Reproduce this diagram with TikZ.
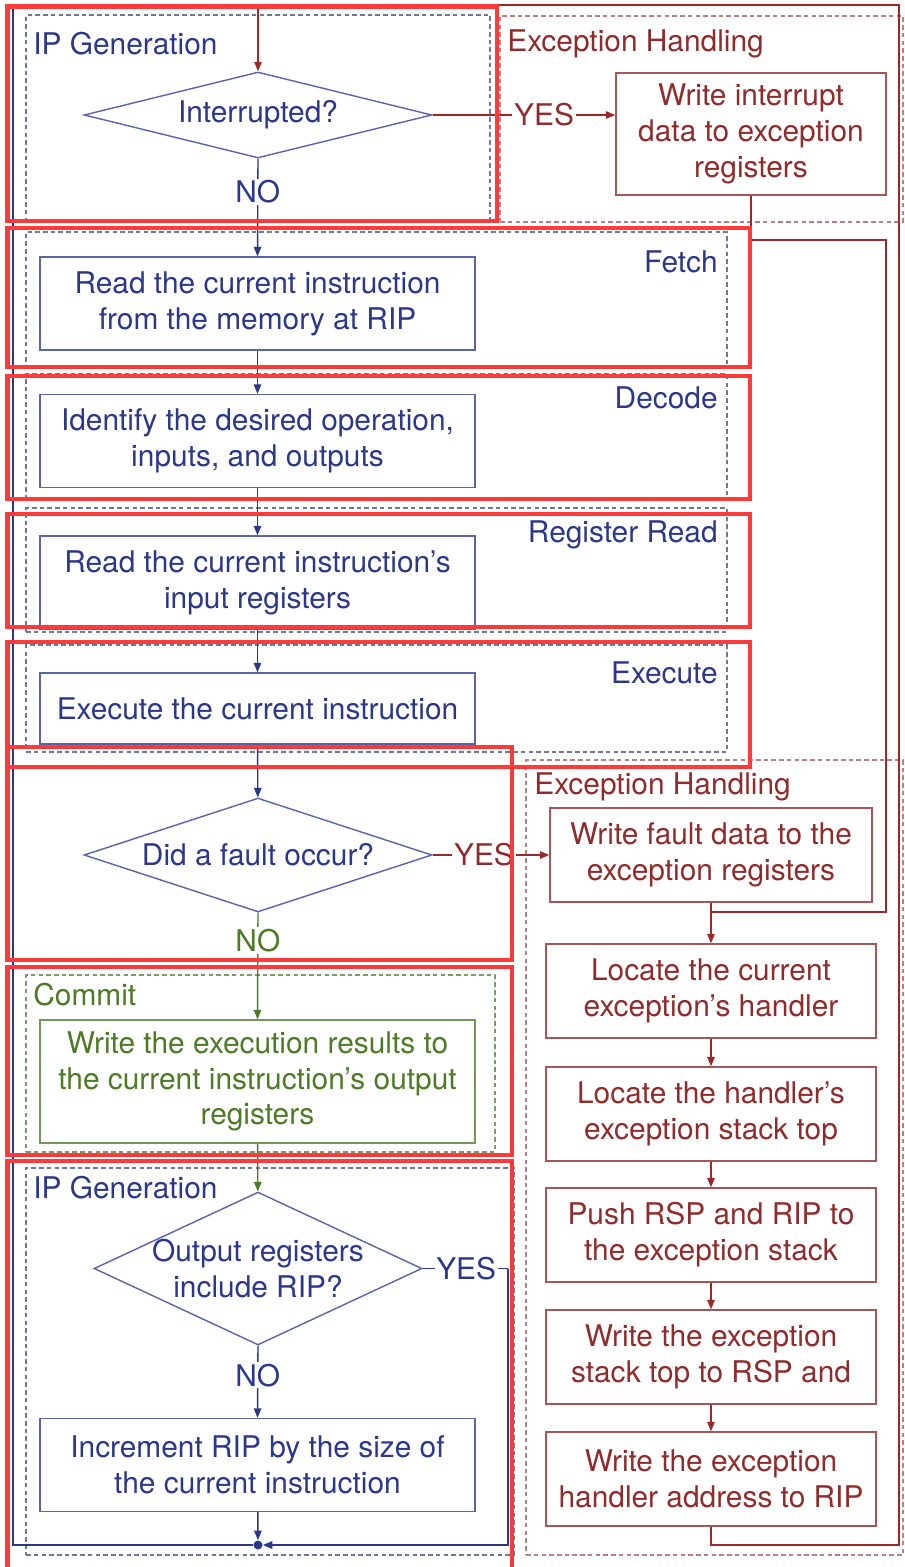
\documentclass[tikz,border=0pt]{standalone}
\usepackage{fontspec}
\setmainfont{TeX Gyre Heros}
\usepackage{xcolor}
\usetikzlibrary{arrows.meta,positioning,shapes.geometric}
\definecolor{iptext}{HTML}{2B3788}
\definecolor{ipedge}{HTML}{5B64AA}
\definecolor{ipline}{HTML}{2B3788}
\definecolor{ipgrp}{HTML}{6F7799}
\definecolor{extext}{HTML}{8F2B2B}
\definecolor{exedge}{HTML}{A65656}
\definecolor{exline}{HTML}{9A2A2A}
\definecolor{exgrp}{HTML}{B88080}
\definecolor{cmtext}{HTML}{4D7A25}
\definecolor{cmedge}{HTML}{73995A}
\definecolor{cmgrp}{HTML}{7A9A6A}
\definecolor{hired}{HTML}{FF3A3A}

\begin{document}
\begin{tikzpicture}[x=0.02cm,y=-0.02cm,
  font=\fontsize{17}{20.4}\selectfont,
  box/.style={draw,line width=0.8pt,align=center,inner sep=2pt,
     minimum width=8.7cm,minimum height=1.86cm},
  ipbox/.style={box,draw=ipedge,text=iptext},
  exbox/.style={box,draw=exedge,text=extext,minimum width=6.6cm,minimum height=1.88cm},
  cmbox/.style={box,draw=cmedge,text=cmtext},
  dia/.style={diamond,draw=ipedge,line width=0.8pt,inner sep=0pt},
  txt/.style={align=center,text=iptext,inner sep=0pt},
  grp/.style={draw=#1,dash pattern=on 2.6pt off 1.8pt,line width=0.7pt,inner sep=0pt},
  phase/.style={inner sep=0pt,text=#1},
  ans/.style={fill=white,inner sep=1pt,text=#1},
  tip/.style={-{Triangle[length=1.9mm,width=1.5mm]}},
  ipl/.style={draw=ipline,line width=0.8pt},
  exl/.style={draw=exline,line width=0.8pt},
  cml/.style={draw=cmtext,line width=0.8pt},
  hilite/.style={draw=hired,line width=2.8pt}]
\useasboundingbox (0,0) rectangle (905,1567);

\node[grp=ipgrp,minimum width=9.28cm,minimum height=4.14cm] (ipgA) at (258,118.5) {};
\node[grp=exgrp,minimum width=8.06cm,minimum height=4.12cm] (exgA) at (701.5,119) {};
\node[grp=ipgrp,minimum width=14.02cm,minimum height=2.7cm] (fetchg) at (376.5,299.5) {};
\node[grp=ipgrp,minimum width=14.02cm,minimum height=2.48cm] (decg) at (376.5,436) {};
\node[grp=ipgrp,minimum width=14.02cm,minimum height=2.48cm] (regg) at (376.5,570) {};
\node[grp=ipgrp,minimum width=14.02cm,minimum height=2.14cm] (exeg) at (376.5,698.5) {};
\node[grp=cmgrp,minimum width=9.38cm,minimum height=3.54cm] (cmg) at (260.5,1063.5) {};
\node[grp=ipgrp,minimum width=9.76cm,minimum height=7.74cm] (ipgB) at (270,1361.5) {};
\node[grp=exgrp,minimum width=7.54cm,minimum height=15.9cm] (exgB) at (714.5,1157.5) {};

\node[phase=iptext,anchor=west] (ipgAl) at (33,44) {IP Generation};
\node[phase=extext,anchor=west] (exgAl) at (507,44) {Exception Handling};
\node[phase=iptext,anchor=east] (fetchl) at (718,262) {Fetch};
\node[phase=iptext,anchor=east] (decl) at (718,398) {Decode};
\node[phase=iptext,anchor=east] (regl) at (718,535) {Register Read};
\node[phase=iptext,anchor=east] (exel) at (718,673) {Execute};
\node[phase=extext,anchor=west] (exgBl) at (534,787) {Exception Handling};
\node[phase=cmtext,anchor=west] (cml) at (33,995) {Commit};
\node[phase=iptext,anchor=west] (ipgBl) at (33,1188) {IP Generation};

\node[dia,minimum width=6.96cm,minimum height=1.72cm,
  label={[txt]center:Interrupted?}] (intq) at (258,115) {};
\node[exbox,minimum width=5.4cm,minimum height=2.44cm] (intbox) at (751,134)
  {Write interrupt\\ data to exception\\ registers};
\node[ipbox] (fetch) at (257.5,303.5) {Read the current instruction\\ from the memory at RIP};
\node[ipbox] (dec) at (257.5,441) {Identify the desired operation,\\ inputs, and outputs};
\node[ipbox] (reg) at (257.5,582.5) {Read the current instruction’s\\ input registers};
\node[ipbox,minimum height=1.42cm] (exe) at (257.5,708.5) {Execute the current instruction};
\node[dia,minimum width=6.96cm,minimum height=2.28cm,
  label={[txt]center:Did a fault occur?}] (faultq) at (258,855) {};
\node[cmbox,minimum height=2.46cm] (com) at (257.5,1081.5)
  {Write the execution results to\\ the current instruction’s output\\ registers};
\node[dia,minimum width=6.56cm,minimum height=3.06cm,
  label={[txt]center:Output registers\\ include RIP?}] (ripq) at (258,1268.5) {};
\node[ipbox] (inc) at (257.5,1465) {Increment RIP by the size of\\ the current instruction};
\node[circle,fill=ipline,inner sep=0pt,minimum size=0.18cm] (join) at (258,1545) {};

\node[exbox,minimum width=6.44cm] (exA) at (711,855) {Write fault data to the\\ exception registers};
\node[exbox] (exB) at (711,991) {Locate the current\\ exception’s handler};
\node[exbox] (exC) at (711,1114) {Locate the handler’s\\ exception stack top};
\node[exbox] (exD) at (711,1235) {Push RSP and RIP to\\ the exception stack};
\node[exbox] (exE) at (711,1357) {Write the exception\\ stack top to RSP and};
\node[exbox] (exF) at (711,1479) {Write the exception\\ handler address to RIP};

\coordinate (topm) at (258,5);
\coordinate (leftb) at (13,1545);
\coordinate (exturn) at (886,240);
\coordinate (exmerge) at (711,912);
\coordinate (exbr) at (899,1545);
\coordinate (ripc) at (508,1268.5);

\draw[ipl] (join.west) -- (leftb) |- (topm);
\draw[exl,tip] (exF.south) |- (exbr) |- (topm) -- (intq.north);
\draw[exl,tip] (intq.east) -- node[ans=extext,pos=0.61] {YES} (intbox.west |- intq.east);
\draw[exl] (intbox.south) |- (exturn) |- (exmerge);
\draw[ipl,tip] (intq.south) -- node[ans=iptext,pos=0.34] {NO} (fetch.north);
\draw[ipl,tip] (fetch) -- (dec);
\draw[ipl,tip] (dec) -- (reg);
\draw[ipl,tip] (reg) -- (exe);
\draw[ipl,tip] (exe) -- (faultq);
\draw[exl,tip] (faultq.east) -- node[ans=extext,pos=0.44] {YES} (exA.west);
\draw[cml,tip] (faultq.south) -- node[ans=cmtext,pos=0.26] {NO} (com.north);
\draw[cml,tip] (com) -- (ripq);
\draw[ipl,tip] (ripq.south) -- node[ans=iptext,pos=0.41] {NO} (inc.north);
\draw[ipl,tip] (inc) -- (join);
\draw[ipl] (ripq.east) -- node[ans=iptext,pos=0.51] {YES} (ripc);
\draw[ipl,tip] (ripc) |- (join.east);
\draw[exl,tip] (exA) -- (exB);
\draw[exl,tip] (exB) -- (exC);
\draw[exl,tip] (exC) -- (exD);
\draw[exl,tip] (exD) -- (exE);
\draw[exl,tip] (exE) -- (exF);

\draw[hilite] (7.5,6.5) rectangle (497,221);
\draw[hilite] (7.5,228) rectangle (750,367);
\draw[hilite] (7.5,376) rectangle (750,499);
\draw[hilite] (7.5,514) rectangle (750,627);
\draw[hilite] (7.5,642) rectangle (750,767);
\draw[hilite] (7.5,747) rectangle (512,960);
\draw[hilite] (7.5,967) rectangle (512,1155);
\draw[hilite] (7.5,1161) rectangle (512,1580);
\end{tikzpicture}
\end{document}
